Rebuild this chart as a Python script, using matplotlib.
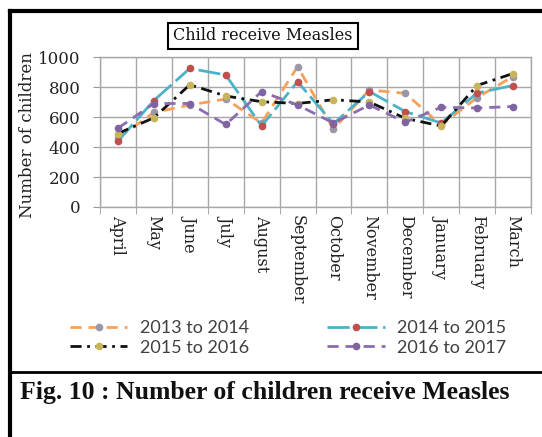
import matplotlib
matplotlib.use("Agg")
import matplotlib.pyplot as plt
from matplotlib.lines import Line2D

months = ["April", "May", "June", "July", "August", "September", "October",
          "November", "December", "January", "February", "March"]
series_names = ["2013 to 2014", "2014 to 2015", "2015 to 2016", "2016 to 2017"]
y2013 = [460, 630, 680, 720, 560, 935, 520, 780, 758, 545, 730, 870]
y2014 = [440, 710, 924, 880, 540, 836, 555, 770, 636, 560, 760, 810]
y2015 = [490, 595, 815, 740, 702, 690, 715, 700, 591, 540, 810, 890]
y2016 = [525, 690, 690, 550, 769, 680, 560, 680, 565, 665, 660, 670]
yticks = [0, 200, 400, 600, 800, 1000]

W, H = 542, 437
fig = plt.figure(figsize=(W / 100, H / 100), dpi=100)
fig.patch.set_facecolor("white")

def fx(px):
    return px / W

def fy(py):
    return 1 - py / H

# outer frame and caption divider
for xs, ys, lw in [([10, 10], [11, 437], 3.0), ([10, 542], [11, 11], 3.0),
                   ([10, 542], [372, 372], 2.0)]:
    fig.add_artist(Line2D([fx(v) for v in xs], [fy(v) for v in ys],
                          color="black", lw=lw, transform=fig.transFigure))

ax = fig.add_axes([fx(100), fy(207), fx(531) - fx(100), fy(57) - fy(207)])
x = list(range(len(months)))

styles = [
    (y2013, "#f5a15a", (0, (4, 2.5)), "#9b97a8"),
    (y2014, "#4bb3c4", (0, (8, 2)), "#c0504d"),
    (y2015, "#111111", (0, (4, 2, 1, 2)), "#c9b45a"),
    (y2016, "#8a6cb0", (0, (4, 2.5)), "#8064a2"),
]
handles = []
for (vals, lc, ls, mc), name in zip(styles, series_names):
    h, = ax.plot(x, vals, color=lc, lw=2, linestyle=ls, marker="o",
                 markersize=4.5, markerfacecolor=mc, markeredgecolor=mc,
                 label=name)
    handles.append(h)

ax.set_xlim(-0.5, 11.5)
ax.set_ylim(0, 1000)
ax.set_yticks(yticks)
ax.set_xticks(x)
ax.set_xticklabels(months, rotation=-90, family="DejaVu Serif", fontsize=11.5,
                   color="#222222", va="top", ha="center")
ax.set_xticks([i - 0.5 for i in range(13)], minor=True)
ax.tick_params(axis="x", which="major", length=0, pad=6)
ax.tick_params(axis="x", which="minor", length=5, color="#9a9a9a", direction="out")
ax.tick_params(axis="y", length=5, color="#9a9a9a", direction="out", pad=9)
for lab in ax.get_yticklabels():
    lab.set_family("DejaVu Serif")
    lab.set_fontsize(12)
    lab.set_color("#222222")
ax.grid(True, axis="y", color="#a8a8a8", lw=1)
ax.grid(True, axis="x", which="minor", color="#a8a8a8", lw=1)
ax.set_axisbelow(True)
for s in ax.spines.values():
    s.set_color("#a8a8a8")
    s.set_linewidth(1)

fig.text(fx(28), fy(135), "Number of children", rotation=90, ha="center",
         va="center", family="DejaVu Serif", fontsize=12, color="#222222")

fig.text(fx(263), fy(36), "Child receive Measles", ha="center", va="center",
         family="DejaVu Serif", fontsize=11.5, color="#111111",
         bbox=dict(boxstyle="square,pad=0.3", facecolor="white",
                   edgecolor="black", linewidth=1.5))

# legend filled column-wise, so order entries to read row by row
order = [0, 2, 1, 3]
leg = fig.legend(handles=[handles[i] for i in order], loc="center", ncol=2,
                 bbox_to_anchor=(fx(288), fy(338)), frameon=False,
                 prop={"family": "Lato", "size": 13}, handlelength=3.2,
                 handletextpad=0.7, columnspacing=4.3, labelspacing=0.2)
for t in leg.get_texts():
    t.set_color("#404040")

fig.text(fx(20), fy(393), "Fig. 10 : Number of children receive Measles",
         ha="left", va="center", family="Liberation Serif",
         fontweight="bold", fontsize=18.5, color="#111111")

fig.savefig("out.png", dpi=100)
